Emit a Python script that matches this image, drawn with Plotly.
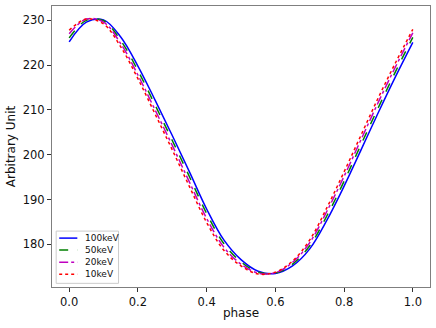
import plotly.graph_objects as go

# phase grid and light-curve values
phase = [0.00, 0.05, 0.10, 0.15, 0.20, 0.25, 0.30, 0.35, 0.40, 0.45, 0.50,
         0.55, 0.60, 0.65, 0.70, 0.75, 0.80, 0.85, 0.90, 0.95, 1.00]

kev100 = [225.2, 229.6, 230.1, 226.3, 219.8, 212.2, 204.3, 196.2, 187.9, 181.0, 176.6,
          174.0, 173.5, 175.2, 179.0, 185.4, 193.0, 201.2, 209.5, 217.5, 225.1]
kev50 = [226.1, 230.0, 229.9, 225.5, 218.8, 211.1, 203.2, 195.1, 186.9, 180.2, 176.1,
         173.8, 173.6, 175.6, 179.7, 186.4, 194.1, 202.4, 210.6, 218.6, 226.2]
kev20 = [227.0, 230.3, 229.6, 224.8, 217.8, 210.0, 202.1, 193.9, 185.8, 179.4, 175.6,
         173.6, 173.7, 176.0, 180.4, 187.4, 195.2, 203.5, 211.8, 219.7, 227.2]
kev10 = [227.8, 230.3, 229.2, 224.1, 217.0, 209.1, 201.1, 192.9, 184.9, 178.7, 175.2,
         173.4, 173.8, 176.3, 181.0, 188.2, 196.2, 204.5, 212.8, 220.6, 228.0]

series = [
    ("100keV", kev100, "#0000ff", "solid"),
    ("50keV", kev50, "#008000", "dash"),
    ("20keV", kev20, "#bf00bf", "dashdot"),
    ("10keV", kev10, "#ff0000", "dot"),
]

fig = go.Figure()
for name, vals, col, dash in series:
    fig.add_trace(go.Scatter(
        x=phase, y=vals, mode="lines", name=name, showlegend=False,
        line=dict(color=col, dash=dash, width=1.5, shape="spline", smoothing=1.0),
    ))

# matplotlib-like legend box in the lower left (drawn by hand so rows sit close)
fig.add_shape(type="rect", xref="x domain", yref="y domain",
              x0=0.011, x1=0.176, y0=0.013, y1=0.199,
              line=dict(color="#cccccc", width=1), fillcolor="rgba(255,255,255,0.8)",
              layer="above")
row_y = [0.174, 0.132, 0.088, 0.045]
for (name, vals, col, dash), yy in zip(series, row_y):
    fig.add_shape(type="line", xref="x domain", yref="y domain",
                  x0=0.019, x1=0.067, y0=yy, y1=yy, layer="above",
                  line=dict(color=col, dash=dash, width=1.5))
    fig.add_annotation(xref="x domain", yref="y domain", x=0.082, y=yy,
                       text=name, showarrow=False, xanchor="left", yanchor="middle",
                       font=dict(size=9, color="#111"))

axis_common = dict(
    showgrid=False, zeroline=False, showline=True, mirror=True,
    linecolor="#7f7f7f", linewidth=1.2, automargin=False,
    ticks="outside", ticklen=4, tickwidth=1, tickcolor="#333",
    tickfont=dict(family="DejaVu Sans", size=11.5, color="#111"),
)

fig.update_layout(
    width=436, height=328,
    margin=dict(l=52, r=6, t=6, b=41),
    paper_bgcolor="white", plot_bgcolor="white",
    font=dict(family="DejaVu Sans", color="#111"),
    xaxis=dict(range=[-0.05, 1.05], tickvals=[0, 0.2, 0.4, 0.6, 0.8, 1.0],
               tickformat=".1f",
               title=dict(text="phase", font=dict(size=12), standoff=0),
               **axis_common),
    yaxis=dict(range=[170.5, 233.2], tickvals=[180, 190, 200, 210, 220, 230],
               title=dict(text="Arbitrary Unit", font=dict(size=12), standoff=4),
               **axis_common),
    showlegend=False,
)

# drop the browser's default body margin so the figure sits at the page corner
fig.write_html("out.html", config={"displayModeBar": False},
               post_script="document.body.style.margin='0px';")
